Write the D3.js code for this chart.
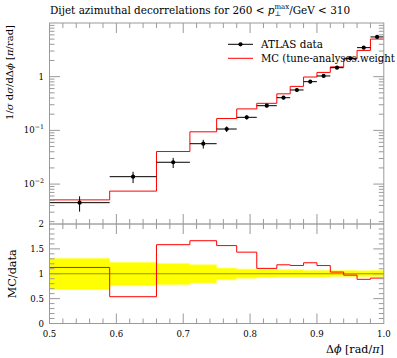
<!DOCTYPE html>
<html><head><meta charset="utf-8">
<script src="https://cdn.jsdelivr.net/npm/d3@7"></script>
<style>body{margin:0;background:#fff} svg{display:block} text{font-family:"DejaVu Serif",serif;fill:#000;white-space:pre}</style>
</head><body>
<script>
// ---- data ----
const binEdges   = [0.5,0.59,0.66,0.71,0.75,0.78,0.81,0.84,0.86,0.88,0.90,0.92,0.94,0.96,0.98,1.0];
const dataVals   = [0.00451,0.01374,0.0255,0.0565,0.106,0.175,0.288,0.406,0.565,0.807,1.03,1.47,2.20,3.47,5.49];
const dataErrUp  = [0.00141,0.0032,0.0053,0.0102,0.012,0.0163,0.023,0.0325,0.045,0.056,0.072,0.096,0.15,0.21,0.38];
const dataErrDn  = [0.00144,0.0033,0.0056,0.0106,0.0127,0.0158,0.0216,0.028,0.04,0.056,0.072,0.088,0.13,0.21,0.33];
const mcVals     = [0.00508,0.0074,0.0404,0.094,0.166,0.251,0.319,0.479,0.659,0.985,1.20,1.52,2.14,3.08,5.01];
const xTickVals  = [0.5,0.6,0.7,0.8,0.9,1.0];
const xTickLabels= ["0.5","0.6","0.7","0.8","0.9","1.0"];
const yMainTicks = [1e-2,1e-1,1];
const yMainLabels= [["10","−2"],["10","−1"],["1",""]];
const ratioTicks = [0,0.5,1,1.5,2];
const ratioLabels= ["0","0.5","1","1.5","2"];
const legendLabels = ["ATLAS data","MC (tune-analyses.weight"];

// ---- layout ----
const W=397,H=358;
const L=49.5,R=383.8,T=23,MB=224,RB=323.5;
const svg=d3.select("body").append("svg").attr("width",W).attr("height",H);

const x=d3.scaleLinear().domain([0.5,1.0]).range([L,R]);
const y=d3.scaleLog().domain([Math.pow(10,-2.743),Math.pow(10,0.999)]).range([MB,T]);
const yr=d3.scaleLinear().domain([0,2]).range([RB,MB]);

const nb=dataVals.length;
const bins=d3.range(nb).map(i=>({lo:binEdges[i],hi:binEdges[i+1],d:dataVals[i],up:dataErrUp[i],dn:dataErrDn[i],mc:mcVals[i]}));

const axisCol="#9a9a9a";

// ---- ratio band ----
const bandArea=d3.area().curve(d3.curveStepAfter)
  .x(p=>x(p.x)).y0(p=>yr(p.lo)).y1(p=>yr(p.hi));
const bandPts=bins.map(b=>({x:b.lo,lo:(b.d-b.dn)/b.d,hi:(b.d+b.up)/b.d}));
bandPts.push({x:1.0,lo:bandPts[nb-1].lo,hi:bandPts[nb-1].hi});
svg.append("path").attr("d",bandArea(bandPts)).attr("fill","#ffff00").attr("stroke","#ffff70").attr("stroke-width",0.8);
svg.append("line").attr("x1",L).attr("x2",R).attr("y1",yr(1)).attr("y2",yr(1))
  .attr("stroke","#000").attr("stroke-opacity",0.42).attr("stroke-width",1);

// ratio MC step
const stepLine=d3.line().curve(d3.curveStepAfter);
const rPts=bins.map(b=>[x(b.lo),yr(b.mc/b.d)]);
rPts.push([x(1.0),yr(bins[nb-1].mc/bins[nb-1].d)]);
svg.append("path").attr("d",stepLine(rPts)).attr("fill","none").attr("stroke","#ff0000").attr("stroke-width",1);

// ---- main MC step ----
const mPts=bins.map(b=>[x(b.lo),y(b.mc)]);
mPts.push([x(1.0),y(bins[nb-1].mc)]);
svg.append("path").attr("d",stepLine(mPts)).attr("fill","none").attr("stroke","#ff0000").attr("stroke-width",1);

// ---- data points ----
const gd=svg.append("g");
bins.forEach(b=>{
  const cx=x((b.lo+b.hi)/2), cy=y(b.d);
  gd.append("line").attr("x1",x(b.lo)).attr("x2",x(b.hi)).attr("y1",cy).attr("y2",cy).attr("stroke","#000").attr("stroke-width",1);
  gd.append("line").attr("x1",cx).attr("x2",cx).attr("y1",y(b.d+b.up)).attr("y2",y(b.d-b.dn)).attr("stroke","#000").attr("stroke-width",1);
  gd.append("circle").attr("cx",cx).attr("cy",cy).attr("r",2.1).attr("fill","#000");
});

// ---- frames & ticks ----
const ga=svg.append("g").attr("stroke",axisCol).attr("stroke-width",1).attr("fill","none");
ga.append("rect").attr("x",L).attr("y",T).attr("width",R-L).attr("height",RB-T);
ga.append("line").attr("x1",L).attr("x2",R).attr("y1",MB).attr("y2",MB).attr("stroke","#777");
function vt(xx,y0,len){ga.append("line").attr("x1",xx).attr("x2",xx).attr("y1",y0).attr("y2",y0+len);}
function ht(yy,x0,len){ga.append("line").attr("x1",x0).attr("x2",x0+len).attr("y1",yy).attr("y2",yy);}
// x ticks
d3.range(0,26).forEach(i=>{
  const v=0.5+i*0.02, xx=x(v), major=(i%5===0), len=major?10:5;
  if(i===0||i===25) return;
  vt(xx,T,len); vt(xx,MB,-len); vt(xx,MB,len); vt(xx,RB,-len);
});
// main log y ticks
for(let e=-3;e<=1;e++){
  for(let m=1;m<=9;m++){
    const v=m*Math.pow(10,e);
    if(v<y.domain()[0]||v>y.domain()[1]) continue;
    const len=(m===1)?10.5:5;
    ht(y(v),L,len); ht(y(v),R,-len);
  }
}
// ratio ticks
d3.range(1,20).forEach(i=>{
  const v=i*0.1, major=(i%5===0), len=major?10.5:5;
  ht(yr(v),L,len); ht(yr(v),R,-len);
});

// ---- text helper ----
function rich(parent,parts,opt){
  const g=parent.append("g");
  let k=1;
  function render(){
    g.selectAll("*").remove();
    const inner=g.append("g");
    let cx=0,prevStart=0,prevW=0;
    parts.forEach(p=>{
      const start=p.stack?prevStart:cx;
      const t=inner.append("text").attr("x",start).attr("y",(p.dy||0)*k).attr("font-size",(p.size||opt.size)*k)
        .attr("font-style",p.italic?"italic":null).text(p.t);
      const w=t.node().getComputedTextLength();
      if(p.stack){cx=prevStart+Math.max(prevW,w);} else {prevStart=start;prevW=w;cx=start+w;}
    });
    return [inner,cx];
  }
  let [inner,cx]=render();
  if(opt.fit){k=opt.fit/cx; [inner,cx]=render();}
  let shift=0; if(opt.anchor==="end") shift=cx; else if(opt.anchor==="middle") shift=cx/2;
  g.attr("transform",`translate(${opt.x},${opt.y})`+(opt.rot?` rotate(${opt.rot})`:""));
  inner.attr("transform",`translate(${-shift},0)`);
  return cx;
}

// title
rich(svg,[
  {t:"Dijet azimuthal decorrelations for 260 < "},
  {t:"p",italic:true},
  {t:"⊥",size:6.5,dy:2.6},
  {t:"max",size:6.5,dy:-4.2,stack:true},
  {t:"/GeV < 310"}
],{x:50,y:13.5,size:9.7,fit:300});

// y label main
rich(svg,[
  {t:"1/"},{t:"σ",italic:true},{t:" d"},{t:"σ",italic:true},{t:"/dΔ"},{t:"ϕ",italic:true},{t:" ["},{t:"π",italic:true},{t:"/rad]"}
],{x:13,y:25,size:9.6,rot:-90,anchor:"end",fit:95});
// ratio y label
rich(svg,[{t:"MC/data"}],{x:15.5,y:yr(1),size:9.6,rot:-90,anchor:"middle",fit:49});
// x label
rich(svg,[{t:"Δ"},{t:"ϕ",italic:true},{t:" [rad/"},{t:"π",italic:true},{t:"]"}],{x:R,y:353,size:9.6,anchor:"end",fit:58});

// x tick labels
xTickVals.forEach((v,i)=>{
  rich(svg,[{t:xTickLabels[i]}],{x:x(v),y:337,size:8.6,anchor:"middle"});
});
// main y labels
yMainTicks.forEach((v,i)=>{
  const lab=yMainLabels[i];
  const parts=[{t:lab[0]}]; if(lab[1]) parts.push({t:lab[1],size:6.3,dy:-4});
  rich(svg,parts,{x:44,y:y(v)+3,size:8.6,anchor:"end"});
});
// ratio y labels
ratioTicks.forEach((v,i)=>{
  rich(svg,[{t:ratioLabels[i]}],{x:44,y:yr(v)+3,size:8.6,anchor:"end"});
});

// ---- legend ----
const lx0=228,lx1=253;
svg.append("line").attr("x1",lx0).attr("x2",lx1).attr("y1",44.3).attr("y2",44.3).attr("stroke","#000").attr("stroke-width",1);
svg.append("circle").attr("cx",(lx0+lx1)/2).attr("cy",44.3).attr("r",2.1).attr("fill","#000");
svg.append("line").attr("x1",lx0).attr("x2",lx1).attr("y1",58.3).attr("y2",58.3).attr("stroke","#ff0000").attr("stroke-width",1);
rich(svg,[{t:legendLabels[0]}],{x:261,y:48.3,size:10.4,fit:62});
rich(svg,[{t:legendLabels[1]}],{x:261,y:62,size:10.4,fit:134});
</script>
</body></html>
